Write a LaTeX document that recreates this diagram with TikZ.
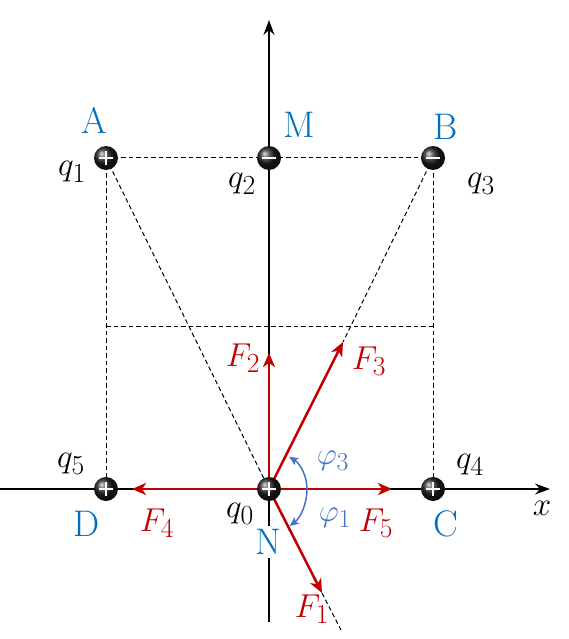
\documentclass[tikz,border=0pt]{standalone}
\usepackage{graphicx}
\usetikzlibrary{arrows.meta}
\definecolor{fred}{RGB}{192,0,0}
\definecolor{lblue}{RGB}{0,112,192}
\definecolor{ablue}{RGB}{68,114,196}
\newcommand\mlbl[1]{\scalebox{1.33}{$#1$}}
\newcommand\albl[1]{\scalebox{1.25}{$#1$}}
\begin{document}
\begin{tikzpicture}[x=1pt,y=-1pt,
  lbl/.style={font=\Huge, inner sep=0pt},
  ptl/.style={font=\fontsize{37}{40}\selectfont, inner sep=0pt, text=lblue},
  frl/.style={lbl, text=fred},
  angl/.style={font=\Huge, inner sep=0pt, text=ablue},
  frc/.style={draw=fred, line width=2.5pt, -{Stealth[length=14pt,width=12pt,inset=4pt]}},
  axisl/.style={line width=1.6pt, -{Stealth[length=15pt,width=11pt,inset=5pt]}},
  guide/.style={line width=1pt, dash pattern=on 4.5pt off 3pt},
  charge/.style={circle, minimum size=24pt, inner sep=0pt, shade, ball color=gray!25!black},
  sign/.style={white, line width=2pt},
  anga/.style={ablue, line width=1.5pt, -{Stealth[length=9pt,width=8pt,inset=2pt]}}
]
\useasboundingbox (0,0) rectangle (568,639);
% positions
\coordinate (q0c) at (269,489);
\coordinate (xs) at (0,489);
\coordinate (xe) at (550,489);
\coordinate (ys) at (269,622);
\coordinate (ye) at (269,20);
\coordinate (mid1) at (106,326);
\coordinate (mid2) at (433,326);
\coordinate (f1) at (322,593);
\coordinate (f1x) at (341,630);
\coordinate (f2) at (269,353);
\coordinate (f3) at (343,342);
\coordinate (f4) at (132,489);
\coordinate (f5) at (392,489);
% guides
\draw[guide] (106,158) -- (433,158);
\draw[guide] (106,158) -- (106,489);
\draw[guide] (433,158) -- (433,489);
\draw[guide] (mid1) -- (mid2);
\draw[guide] (106,158) -- (q0c);
\draw[guide] (433,158) -- (f3);
\draw[guide] (f1) -- (f1x);
% axes
\draw[axisl] (xs) -- (xe);
\draw[axisl] (ys) -- (ye);
% forces
\draw[frc] (q0c) -- (f2);
\draw[frc] (q0c) -- (f3);
\draw[frc] (q0c) -- (f4);
\draw[frc] (q0c) -- (f5);
\draw[frc] (q0c) -- (f1);
% angle arcs
\draw[anga] (q0c) ++(38,0) arc[start angle=0, end angle=-58, radius=38];
\draw[anga] (q0c) ++(38,0) arc[start angle=0, end angle=57, x radius=38, y radius=44];
% charges
\node[charge] (q1) at (106,158) {};
\node[charge] (q2) at (269,158) {};
\node[charge] (q3) at (433,158) {};
\node[charge] (q4) at (433,489) {};
\node[charge] (q5) at (106,489) {};
\node[charge] (q0) at (269,489) {};
\foreach \n in {q1,q4,q5,q0}{
  \draw[sign] (\n) ++(-7,0) -- ++(14,0);
  \draw[sign] (\n) ++(0,-7) -- ++(0,14);
}
\foreach \n in {q2,q3}{
  \draw[sign] (\n) ++(-7,0) -- ++(14,0);
}
% labels
\node[ptl] (lA) at (94,120) {A};
\node[ptl] (lM) at (299,125) {M};
\node[ptl] (lB) at (446,127) {B};
\node[ptl] (lD) at (87,524) {D};
\node[ptl] (lC) at (446,524) {C};
\node[ptl, fill=white, inner sep=3pt] (lN) at (268,542) {N};
\node[lbl] (l1) at (72,172) {\mlbl{q_1}};
\node[lbl] (l2) at (242,184) {\mlbl{q_2}};
\node[lbl] (l3) at (481,184) {\mlbl{q_3}};
\node[lbl] (l4) at (470,465) {\mlbl{q_4}};
\node[lbl] (l5) at (71,464) {\mlbl{q_5}};
\node[lbl] (l0) at (240,514) {\mlbl{q_0}};
\node[frl] (F2) at (243,358) {\mlbl{F_2}};
\node[frl] (F3) at (369,361) {\mlbl{F_3}};
\node[frl] (F4) at (157,523) {\mlbl{F_4}};
\node[frl] (F5) at (376,523) {\mlbl{F_5}};
\node[frl] (F1) at (312,609) {\mlbl{F_1}};
\node[angl] (p3) at (333,461) {\albl{\varphi_3}};
\node[angl] (p1) at (335,518) {\albl{\varphi_1}};
\node[lbl] (lx) at (542,508) {\mlbl{x}};
\end{tikzpicture}
\end{document}
